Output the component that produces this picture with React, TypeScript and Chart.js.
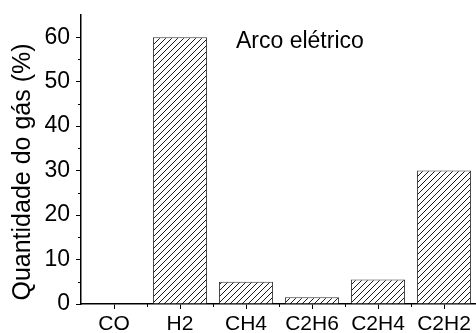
import React, { useEffect, useRef } from "react";
import { Chart, registerables } from "chart.js";
Chart.register(...registerables);

const categories = ["CO", "H2", "CH4", "C2H6", "C2H4", "C2H2"];
const gasPercent = [0, 60, 5, 1.5, 5.5, 30];
const yMajorStep = 10;
const yMax = 65;
const yMinorTicks = [5, 15, 25, 35, 45, 55];
const yTitle = "Quantidade do gás (%)";
const annotationText = "Arco elétrico";

const FONT = "'Liberation Sans', Arial, Helvetica, sans-serif";

function makeHatch(): CanvasPattern | string {
  const size = 6;
  const c = document.createElement("canvas");
  c.width = size;
  c.height = size;
  const g = c.getContext("2d");
  if (!g) return "#fff";
  g.fillStyle = "#ffffff";
  g.fillRect(0, 0, size, size);
  g.strokeStyle = "#000000";
  g.lineWidth = 0.9;
  g.beginPath();
  g.moveTo(-1, size + 1);
  g.lineTo(size + 1, -1);
  g.moveTo(-1, 1);
  g.lineTo(1, -1);
  g.moveTo(size - 1, size + 1);
  g.lineTo(size + 1, size - 1);
  g.stroke();
  const p = g.createPattern(c, "repeat");
  return p || "#fff";
}

const minorTicksPlugin = {
  id: "minorTicks",
  afterDraw(chart: any) {
    const ctx = chart.ctx;
    const y = chart.scales.y;
    const x = chart.scales.x;
    ctx.save();
    ctx.strokeStyle = "#000";
    ctx.lineWidth = 1;
    ctx.beginPath();
    for (const v of yMinorTicks) {
      const py = Math.round(y.getPixelForValue(v)) + 0.5;
      ctx.moveTo(y.right - 3, py);
      ctx.lineTo(y.right, py);
    }
    for (let i = 1; i < categories.length + 1; i++) {
      const px = Math.round(x.getPixelForValue(i - 0.5)) + 0.5;
      ctx.moveTo(px, x.top);
      ctx.lineTo(px, x.top + 3);
    }
    ctx.stroke();
    const area = chart.chartArea;
    ctx.fillStyle = "#000";
    // annotation text
    ctx.font = `23px ${FONT}`;
    ctx.textAlign = "left";
    ctx.textBaseline = "alphabetic";
    ctx.fillText(annotationText, area.left + 155, area.top + 33);
    // y axis title
    ctx.save();
    ctx.font = `25px ${FONT}`;
    ctx.translate(30, area.top + 157);
    ctx.rotate(-Math.PI / 2);
    ctx.textAlign = "center";
    ctx.textBaseline = "alphabetic";
    ctx.fillText(yTitle, 0, 0);
    ctx.restore();
    ctx.restore();
  },
};

export default function App() {
  const ref = useRef<HTMLCanvasElement | null>(null);
  useEffect(() => {
    if (!ref.current) return;
    Chart.defaults.color = "#000";
    const chart = new Chart(ref.current, {
      type: "bar",
      data: {
        labels: categories,
        datasets: [
          {
            data: gasPercent,
            backgroundColor: makeHatch() as any,
            borderColor: "#333",
            borderWidth: 1,
            barPercentage: 0.82,
            categoryPercentage: 1,
          },
        ],
      },
      options: {
        responsive: false,
        animation: false,
        devicePixelRatio: 1,
        layout: { padding: { top: 15, right: 3, left: 0, bottom: 0 } },
        plugins: { legend: { display: false }, tooltip: { enabled: false } },
        scales: {
          x: {
            offset: true,
            grid: {
              offset: false,
              drawOnChartArea: false,
              tickLength: 5,
              tickColor: "#000",
            },
            border: { display: true, color: "#000", width: 1.5 },
            ticks: {
              font: { family: FONT, size: 21 },
              color: "#000",
              padding: 3,
              maxRotation: 0,
              autoSkip: false,
            },
            afterFit(scale: any) {
              scale.height = 29;
              scale.paddingLeft = 0;
              scale.paddingRight = 0;
            },
          },
          y: {
            min: 0,
            max: yMax,
            grid: {
              drawOnChartArea: false,
              tickLength: 5,
              tickColor: "#000",
            },
            border: { display: true, color: "#000", width: 1.5 },
            ticks: {
              stepSize: yMajorStep,
              includeBounds: false,
              font: { family: FONT, size: 23 },
              color: "#000",
              padding: 6,
            },
            title: { display: false },
            afterFit(scale: any) {
              scale.width = 81;
              scale.paddingTop = 0;
              scale.paddingBottom = 0;
            },
          },
        },
      },
      plugins: [minorTicksPlugin],
    });
    return () => chart.destroy();
  }, []);
  return (
    <div
      style={{
        position: "fixed",
        left: 0,
        top: 0,
        width: 476,
        height: 333,
        overflow: "hidden",
        background: "#fff",
      }}
    >
      <canvas ref={ref} width={480} height={333} style={{ display: "block" }} />
    </div>
  );
}
